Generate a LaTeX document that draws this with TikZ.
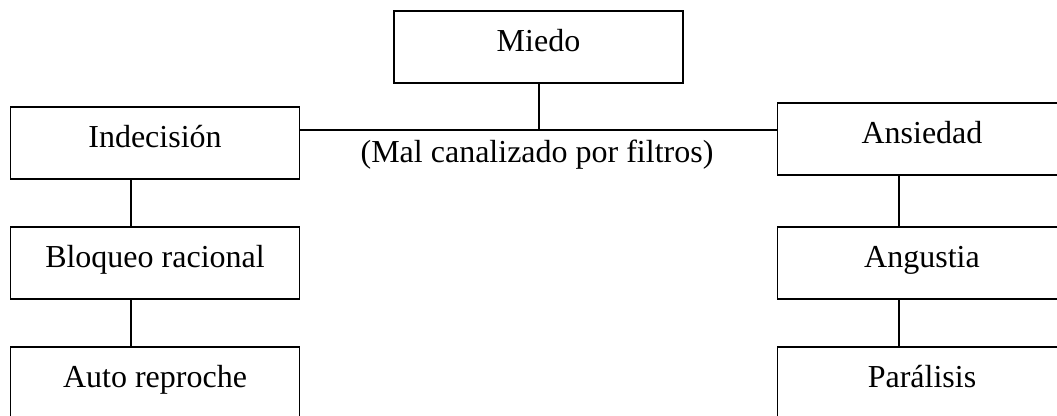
\documentclass[tikz,border=0pt]{standalone}
\usepackage{fontspec}
\setmainfont{Liberation Serif}
\begin{document}
\begin{tikzpicture}[x=0.75pt,y=-0.75pt,
  box/.style={draw,line width=1.2pt,minimum width=216.5pt,minimum height=54pt,inner sep=0pt,
    text height=12pt,text depth=4.5pt,font=\fontsize{24}{28}\selectfont},
  conn/.style={line width=1.2pt},
  lbl/.style={anchor=base,inner sep=0pt,font=\fontsize{24}{28}\selectfont}]
\useasboundingbox (0,0) rectangle (1057,416);
\node[box] (miedo) at (538.5,47) {Miedo};
\node[box] (ind) at (155,143) {Indecisión};
\node[box] (ans) at (922,139) {Ansiedad};
\node[box] (blo) at (155,263) {Bloqueo racional};
\node[box] (ang) at (922,263) {Angustia};
\node[box] (aut) at (155,383) {Auto reproche};
\node[box] (par) at (922,383) {Parálisis};
\coordinate (j) at (539,130);
\coordinate (lx) at (131,0);
\coordinate (rx) at (899,0);
\node[lbl] (mal) at (537,163) {(Mal canalizado por filtros)};
\draw[conn] (miedo.south -| j) -- (j);
\draw[conn] (ind.east |- j) -- (ans.west |- j);
\draw[conn] (ind.south -| lx) -- (blo.north -| lx);
\draw[conn] (blo.south -| lx) -- (aut.north -| lx);
\draw[conn] (ans.south -| rx) -- (ang.north -| rx);
\draw[conn] (ang.south -| rx) -- (par.north -| rx);
\end{tikzpicture}
\end{document}
